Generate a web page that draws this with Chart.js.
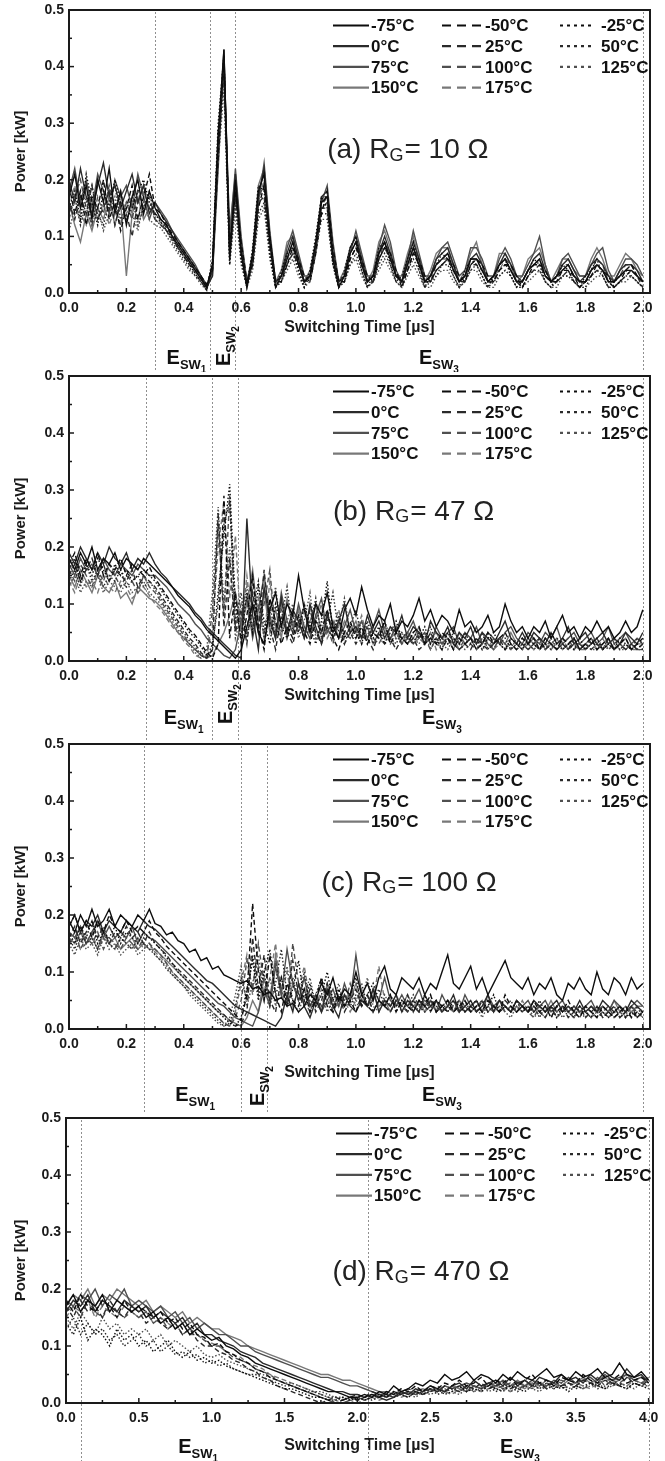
<!DOCTYPE html>
<html>
<head>
<meta charset="utf-8">
<title>Switching power vs time</title>
<script src="https://cdn.jsdelivr.net/npm/chart.js@4.4.1/dist/chart.umd.min.js"></script>
<style>
  html, body { margin: 0; padding: 0; background: #fff; }
  #page { position: relative; width: 665px; height: 1461px; overflow: hidden; }
  canvas { position: absolute; left: 0; }
</style>
</head>
<body>
<div id="page">
  <canvas id="rg10" width="665" height="372" style="top:0px"></canvas>
  <canvas id="rg47" width="665" height="390" style="top:355px"></canvas>
  <canvas id="rg100" width="665" height="390" style="top:725px"></canvas>
  <canvas id="rg470" width="665" height="363" style="top:1098px"></canvas>
</div>
<script>
const temps = ['-75°C', '-50°C', '-25°C', '0°C', '25°C', '50°C', '75°C', '100°C', '125°C', '150°C', '175°C'];

// sample times [µs], panels a-c
const timeUs = [
  0.00, 0.02, 0.04, 0.06, 0.08, 0.10, 0.12, 0.14, 0.16, 0.18,
  0.20, 0.22, 0.24, 0.26, 0.28, 0.30, 0.32, 0.34, 0.36, 0.38,
  0.40, 0.42, 0.44, 0.46, 0.48, 0.50, 0.52, 0.54, 0.56, 0.58,
  0.60, 0.62, 0.64, 0.66, 0.68, 0.70, 0.72, 0.74, 0.76, 0.78,
  0.80, 0.82, 0.84, 0.86, 0.88, 0.90, 0.92, 0.94, 0.96, 0.98,
  1.00, 1.02, 1.04, 1.06, 1.08, 1.10, 1.12, 1.14, 1.16, 1.18,
  1.20, 1.22, 1.24, 1.26, 1.28, 1.30, 1.32, 1.34, 1.36, 1.38,
  1.40, 1.42, 1.44, 1.46, 1.48, 1.50, 1.52, 1.54, 1.56, 1.58,
  1.60, 1.62, 1.64, 1.66, 1.68, 1.70, 1.72, 1.74, 1.76, 1.78,
  1.80, 1.82, 1.84, 1.86, 1.88, 1.90, 1.92, 1.94, 1.96, 1.98, 2.00
];
// sample times [µs], panel d
const timeUsD = [
  0.00, 0.05, 0.10, 0.15, 0.20, 0.25, 0.30, 0.35, 0.40, 0.45,
  0.50, 0.55, 0.60, 0.65, 0.70, 0.75, 0.80, 0.85, 0.90, 0.95,
  1.00, 1.05, 1.10, 1.15, 1.20, 1.25, 1.30, 1.35, 1.40, 1.45,
  1.50, 1.55, 1.60, 1.65, 1.70, 1.75, 1.80, 1.85, 1.90, 1.95,
  2.00, 2.05, 2.10, 2.15, 2.20, 2.25, 2.30, 2.35, 2.40, 2.45,
  2.50, 2.55, 2.60, 2.65, 2.70, 2.75, 2.80, 2.85, 2.90, 2.95,
  3.00, 3.05, 3.10, 3.15, 3.20, 3.25, 3.30, 3.35, 3.40, 3.45,
  3.50, 3.55, 3.60, 3.65, 3.70, 3.75, 3.80, 3.85, 3.90, 3.95, 4.00
];

// (a) RG = 10 ohm, power [kW]
const rg10_m75 = [
  0.17, 0.21, 0.15, 0.19, 0.13, 0.20, 0.16, 0.22, 0.14, 0.18,
  0.12, 0.17, 0.20, 0.14, 0.18, 0.15, 0.13, 0.12, 0.10, 0.085,
  0.07, 0.055, 0.04, 0.025, 0.01, 0.05, 0.28, 0.43, 0.06, 0.20,
  0.07, 0.01, 0.07, 0.18, 0.21, 0.09, 0.01, 0.03, 0.06, 0.09,
  0.05, 0.02, 0.03, 0.09, 0.16, 0.17, 0.06, 0.01, 0.03, 0.07,
  0.09, 0.05, 0.02, 0.03, 0.07, 0.09, 0.06, 0.03, 0.02, 0.05,
  0.08, 0.05, 0.02, 0.03, 0.05, 0.06, 0.07, 0.04, 0.02, 0.03,
  0.06, 0.06, 0.04, 0.02, 0.03, 0.05, 0.06, 0.04, 0.02, 0.02,
  0.04, 0.05, 0.06, 0.03, 0.02, 0.03, 0.04, 0.05, 0.03, 0.02,
  0.02, 0.04, 0.05, 0.04, 0.02, 0.02, 0.03, 0.04, 0.04, 0.03, 0.02
];
const rg10_m50 = [
  0.19, 0.14, 0.18, 0.12, 0.17, 0.15, 0.20, 0.13, 0.16, 0.11,
  0.15, 0.19, 0.13, 0.17, 0.21, 0.15, 0.14, 0.12, 0.105, 0.09,
  0.075, 0.06, 0.045, 0.03, 0.015, 0.04, 0.24, 0.41, 0.08, 0.18,
  0.09, 0.02, 0.05, 0.15, 0.19, 0.10, 0.02, 0.02, 0.05, 0.08,
  0.06, 0.03, 0.02, 0.07, 0.14, 0.18, 0.08, 0.02, 0.02, 0.06,
  0.08, 0.06, 0.03, 0.02, 0.06, 0.08, 0.07, 0.04, 0.01, 0.04,
  0.07, 0.06, 0.03, 0.02, 0.04, 0.05, 0.06, 0.05, 0.03, 0.02,
  0.05, 0.06, 0.05, 0.03, 0.02, 0.04, 0.05, 0.05, 0.03, 0.01,
  0.03, 0.05, 0.05, 0.04, 0.02, 0.02, 0.04, 0.04, 0.03, 0.01,
  0.02, 0.03, 0.05, 0.04, 0.03, 0.01, 0.02, 0.04, 0.05, 0.03, 0.02
];
const rg10_m25 = [
  0.15, 0.18, 0.13, 0.21, 0.16, 0.12, 0.18, 0.15, 0.20, 0.16,
  0.13, 0.15, 0.18, 0.20, 0.16, 0.14, 0.125, 0.11, 0.095, 0.08,
  0.065, 0.05, 0.035, 0.02, 0.005, 0.06, 0.30, 0.42, 0.05, 0.19,
  0.06, 0.01, 0.08, 0.19, 0.18, 0.07, 0.01, 0.04, 0.07, 0.08,
  0.04, 0.01, 0.04, 0.10, 0.17, 0.15, 0.05, 0.01, 0.04, 0.08,
  0.10, 0.04, 0.01, 0.03, 0.08, 0.09, 0.05, 0.02, 0.03, 0.06,
  0.09, 0.04, 0.01, 0.03, 0.05, 0.07, 0.06, 0.03, 0.01, 0.04,
  0.06, 0.05, 0.03, 0.01, 0.03, 0.05, 0.06, 0.03, 0.01, 0.02,
  0.04, 0.06, 0.05, 0.02, 0.01, 0.03, 0.05, 0.04, 0.02, 0.01,
  0.03, 0.04, 0.06, 0.03, 0.01, 0.02, 0.03, 0.04, 0.03, 0.02, 0.01
];
const rg10_0 = [
  0.20, 0.16, 0.22, 0.17, 0.14, 0.19, 0.23, 0.17, 0.19, 0.15,
  0.18, 0.21, 0.16, 0.19, 0.14, 0.16, 0.14, 0.125, 0.11, 0.09,
  0.075, 0.06, 0.045, 0.03, 0.01, 0.03, 0.26, 0.43, 0.07, 0.21,
  0.08, 0.01, 0.06, 0.17, 0.22, 0.10, 0.02, 0.03, 0.07, 0.10,
  0.06, 0.02, 0.03, 0.08, 0.17, 0.18, 0.07, 0.02, 0.03, 0.08,
  0.10, 0.06, 0.02, 0.03, 0.07, 0.10, 0.07, 0.03, 0.02, 0.06,
  0.09, 0.06, 0.02, 0.03, 0.06, 0.07, 0.08, 0.05, 0.02, 0.03,
  0.06, 0.07, 0.05, 0.02, 0.03, 0.05, 0.07, 0.05, 0.03, 0.02,
  0.04, 0.06, 0.07, 0.04, 0.02, 0.03, 0.05, 0.06, 0.04, 0.02,
  0.03, 0.05, 0.06, 0.05, 0.03, 0.02, 0.04, 0.05, 0.05, 0.04, 0.02
];
const rg10_25 = [
  0.16, 0.13, 0.17, 0.14, 0.19, 0.13, 0.15, 0.18, 0.12, 0.16,
  0.14, 0.10, 0.16, 0.19, 0.15, 0.14, 0.13, 0.115, 0.10, 0.08,
  0.065, 0.05, 0.04, 0.025, 0.01, 0.04, 0.27, 0.40, 0.09, 0.17,
  0.07, 0.02, 0.06, 0.16, 0.17, 0.08, 0.02, 0.03, 0.05, 0.07,
  0.05, 0.02, 0.03, 0.08, 0.15, 0.15, 0.06, 0.02, 0.03, 0.06,
  0.08, 0.05, 0.02, 0.02, 0.06, 0.08, 0.06, 0.03, 0.02, 0.04,
  0.07, 0.05, 0.02, 0.02, 0.04, 0.05, 0.06, 0.04, 0.02, 0.02,
  0.05, 0.05, 0.04, 0.02, 0.02, 0.04, 0.05, 0.04, 0.02, 0.01,
  0.03, 0.04, 0.05, 0.03, 0.02, 0.02, 0.03, 0.04, 0.02, 0.01,
  0.02, 0.03, 0.04, 0.04, 0.02, 0.01, 0.02, 0.03, 0.04, 0.03, 0.01
];
const rg10_50 = [
  0.14, 0.17, 0.12, 0.16, 0.19, 0.14, 0.12, 0.16, 0.19, 0.13,
  0.15, 0.17, 0.12, 0.15, 0.18, 0.13, 0.12, 0.11, 0.09, 0.075,
  0.06, 0.045, 0.03, 0.02, 0.005, 0.05, 0.25, 0.39, 0.06, 0.16,
  0.06, 0.01, 0.05, 0.14, 0.16, 0.07, 0.01, 0.02, 0.05, 0.07,
  0.04, 0.01, 0.03, 0.08, 0.14, 0.14, 0.05, 0.01, 0.02, 0.05,
  0.07, 0.04, 0.01, 0.02, 0.05, 0.07, 0.05, 0.02, 0.01, 0.04,
  0.06, 0.04, 0.01, 0.02, 0.03, 0.05, 0.05, 0.03, 0.01, 0.02,
  0.04, 0.05, 0.03, 0.01, 0.02, 0.03, 0.04, 0.03, 0.01, 0.01,
  0.03, 0.04, 0.04, 0.02, 0.01, 0.02, 0.03, 0.03, 0.02, 0.01,
  0.01, 0.03, 0.04, 0.03, 0.01, 0.01, 0.02, 0.03, 0.03, 0.02, 0.01
];
const rg10_75 = [
  0.18, 0.22, 0.16, 0.20, 0.15, 0.21, 0.18, 0.14, 0.20, 0.17,
  0.19, 0.15, 0.21, 0.17, 0.13, 0.16, 0.145, 0.13, 0.11, 0.095,
  0.08, 0.065, 0.05, 0.03, 0.015, 0.03, 0.22, 0.42, 0.10, 0.22,
  0.10, 0.02, 0.05, 0.16, 0.23, 0.11, 0.02, 0.03, 0.08, 0.11,
  0.07, 0.03, 0.03, 0.08, 0.16, 0.19, 0.09, 0.02, 0.03, 0.07,
  0.11, 0.07, 0.03, 0.03, 0.08, 0.12, 0.09, 0.04, 0.02, 0.06,
  0.11, 0.07, 0.03, 0.03, 0.06, 0.08, 0.09, 0.06, 0.03, 0.04,
  0.08, 0.08, 0.06, 0.03, 0.03, 0.06, 0.08, 0.06, 0.03, 0.03,
  0.05, 0.07, 0.10, 0.05, 0.02, 0.03, 0.06, 0.07, 0.05, 0.03,
  0.03, 0.05, 0.07, 0.08, 0.04, 0.02, 0.04, 0.06, 0.06, 0.05, 0.03
];
const rg10_100 = [
  0.13, 0.17, 0.20, 0.15, 0.12, 0.17, 0.14, 0.19, 0.15, 0.12,
  0.16, 0.13, 0.18, 0.15, 0.17, 0.13, 0.12, 0.11, 0.095, 0.08,
  0.065, 0.05, 0.035, 0.02, 0.01, 0.05, 0.29, 0.38, 0.08, 0.18,
  0.08, 0.02, 0.06, 0.17, 0.19, 0.09, 0.02, 0.02, 0.06, 0.09,
  0.05, 0.02, 0.02, 0.07, 0.15, 0.16, 0.07, 0.02, 0.02, 0.07,
  0.09, 0.06, 0.02, 0.02, 0.06, 0.09, 0.07, 0.03, 0.02, 0.05,
  0.08, 0.06, 0.02, 0.02, 0.05, 0.06, 0.07, 0.05, 0.02, 0.03,
  0.06, 0.06, 0.05, 0.02, 0.02, 0.05, 0.06, 0.05, 0.02, 0.02,
  0.04, 0.05, 0.06, 0.04, 0.02, 0.02, 0.05, 0.05, 0.03, 0.02,
  0.02, 0.04, 0.06, 0.05, 0.02, 0.02, 0.03, 0.05, 0.05, 0.03, 0.02
];
const rg10_125 = [
  0.11, 0.15, 0.13, 0.17, 0.12, 0.15, 0.11, 0.14, 0.17, 0.12,
  0.16, 0.14, 0.11, 0.16, 0.13, 0.12, 0.115, 0.10, 0.085, 0.07,
  0.055, 0.04, 0.03, 0.015, 0.005, 0.04, 0.23, 0.36, 0.05, 0.15,
  0.05, 0.01, 0.04, 0.13, 0.15, 0.06, 0.01, 0.02, 0.04, 0.06,
  0.03, 0.01, 0.02, 0.07, 0.13, 0.13, 0.05, 0.01, 0.02, 0.05,
  0.06, 0.03, 0.01, 0.02, 0.04, 0.06, 0.04, 0.02, 0.01, 0.03,
  0.05, 0.03, 0.01, 0.01, 0.03, 0.04, 0.04, 0.02, 0.01, 0.02,
  0.04, 0.04, 0.02, 0.01, 0.01, 0.03, 0.04, 0.03, 0.01, 0.01,
  0.02, 0.03, 0.04, 0.02, 0.01, 0.01, 0.03, 0.03, 0.02, 0.01,
  0.01, 0.02, 0.03, 0.03, 0.01, 0.01, 0.02, 0.02, 0.03, 0.02, 0.01
];
const rg10_150 = [
  0.16, 0.12, 0.09, 0.14, 0.11, 0.15, 0.13, 0.17, 0.12, 0.16,
  0.03, 0.14, 0.17, 0.13, 0.15, 0.14, 0.13, 0.12, 0.10, 0.09,
  0.075, 0.06, 0.045, 0.03, 0.01, 0.04, 0.25, 0.41, 0.11, 0.21,
  0.09, 0.02, 0.07, 0.19, 0.22, 0.10, 0.02, 0.04, 0.09, 0.10,
  0.06, 0.02, 0.04, 0.09, 0.17, 0.17, 0.08, 0.02, 0.04, 0.08,
  0.10, 0.06, 0.02, 0.04, 0.09, 0.11, 0.08, 0.03, 0.03, 0.07,
  0.10, 0.06, 0.02, 0.04, 0.07, 0.08, 0.08, 0.05, 0.02, 0.04,
  0.07, 0.09, 0.05, 0.02, 0.03, 0.07, 0.07, 0.05, 0.02, 0.03,
  0.06, 0.07, 0.08, 0.05, 0.02, 0.04, 0.06, 0.06, 0.04, 0.03,
  0.03, 0.06, 0.08, 0.06, 0.03, 0.03, 0.05, 0.07, 0.06, 0.04, 0.03
];
const rg10_175 = [
  0.15, 0.19, 0.14, 0.12, 0.17, 0.13, 0.16, 0.12, 0.15, 0.18,
  0.14, 0.16, 0.13, 0.18, 0.15, 0.13, 0.125, 0.11, 0.10, 0.08,
  0.07, 0.055, 0.04, 0.025, 0.01, 0.05, 0.27, 0.40, 0.07, 0.19,
  0.07, 0.02, 0.06, 0.16, 0.20, 0.09, 0.02, 0.03, 0.06, 0.08,
  0.05, 0.02, 0.03, 0.09, 0.15, 0.16, 0.06, 0.02, 0.03, 0.07,
  0.09, 0.05, 0.02, 0.03, 0.07, 0.09, 0.06, 0.03, 0.02, 0.05,
  0.08, 0.05, 0.02, 0.03, 0.05, 0.06, 0.06, 0.04, 0.02, 0.03,
  0.05, 0.06, 0.04, 0.02, 0.03, 0.04, 0.06, 0.04, 0.02, 0.02,
  0.04, 0.05, 0.06, 0.03, 0.02, 0.03, 0.04, 0.05, 0.03, 0.02,
  0.02, 0.04, 0.05, 0.04, 0.02, 0.02, 0.03, 0.04, 0.04, 0.03, 0.02
];

// (b) RG = 47 ohm
const rg47_m75 = [
  0.18, 0.16, 0.19, 0.17, 0.20, 0.16, 0.18, 0.17, 0.19, 0.16,
  0.18, 0.17, 0.16, 0.18, 0.17, 0.16, 0.15, 0.14, 0.13, 0.115,
  0.105, 0.095, 0.08, 0.07, 0.055, 0.045, 0.035, 0.025, 0.015, 0.005,
  0.02, 0.06, 0.10, 0.05, 0.03, 0.09, 0.12, 0.06, 0.10, 0.08,
  0.15, 0.09, 0.05, 0.10, 0.08, 0.12, 0.06, 0.04, 0.09, 0.11,
  0.08, 0.13, 0.09, 0.06, 0.08, 0.07, 0.10, 0.05, 0.07, 0.06,
  0.08, 0.11, 0.07, 0.09, 0.06, 0.08, 0.07, 0.05, 0.09, 0.06,
  0.07, 0.05, 0.06, 0.08, 0.05, 0.06, 0.10, 0.07, 0.05, 0.06,
  0.04, 0.06, 0.05, 0.07, 0.04, 0.06, 0.08, 0.05, 0.06, 0.04,
  0.06, 0.05, 0.07, 0.05, 0.06, 0.04, 0.05, 0.07, 0.05, 0.06, 0.09
];
const rg47_m50 = [
  0.17, 0.19, 0.15, 0.18, 0.16, 0.19, 0.15, 0.17, 0.16, 0.18,
  0.15, 0.17, 0.16, 0.15, 0.165, 0.145, 0.13, 0.115, 0.10, 0.085,
  0.07, 0.055, 0.045, 0.03, 0.015, 0.005, 0.03, 0.29, 0.04, 0.12,
  0.03, 0.08, 0.15, 0.06, 0.02, 0.11, 0.07, 0.03, 0.06, 0.04,
  0.08, 0.05, 0.03, 0.07, 0.05, 0.09, 0.04, 0.02, 0.05, 0.07,
  0.04, 0.06, 0.03, 0.05, 0.04, 0.07, 0.03, 0.05, 0.04, 0.03,
  0.05, 0.06, 0.03, 0.04, 0.03, 0.05, 0.04, 0.02, 0.04, 0.03,
  0.04, 0.02, 0.03, 0.05, 0.03, 0.04, 0.05, 0.03, 0.02, 0.04,
  0.03, 0.04, 0.02, 0.04, 0.03, 0.02, 0.04, 0.03, 0.04, 0.02,
  0.03, 0.04, 0.02, 0.03, 0.04, 0.02, 0.03, 0.04, 0.02, 0.03, 0.04
];
const rg47_m25 = [
  0.16, 0.18, 0.14, 0.17, 0.15, 0.18, 0.16, 0.14, 0.17, 0.15,
  0.16, 0.14, 0.15, 0.16, 0.15, 0.14, 0.125, 0.11, 0.095, 0.08,
  0.065, 0.05, 0.04, 0.025, 0.01, 0.02, 0.12, 0.22, 0.31, 0.10,
  0.04, 0.12, 0.05, 0.13, 0.07, 0.03, 0.10, 0.06, 0.04, 0.08,
  0.05, 0.10, 0.06, 0.03, 0.07, 0.14, 0.05, 0.08, 0.04, 0.06,
  0.05, 0.03, 0.07, 0.04, 0.06, 0.03, 0.05, 0.07, 0.04, 0.03,
  0.05, 0.04, 0.06, 0.03, 0.04, 0.02, 0.05, 0.04, 0.03, 0.05,
  0.03, 0.04, 0.02, 0.04, 0.05, 0.03, 0.02, 0.04, 0.03, 0.02,
  0.04, 0.03, 0.02, 0.03, 0.05, 0.03, 0.02, 0.03, 0.02, 0.04,
  0.02, 0.03, 0.04, 0.02, 0.03, 0.02, 0.04, 0.03, 0.02, 0.03, 0.02
];
const rg47_0 = [
  0.19, 0.17, 0.20, 0.18, 0.16, 0.19, 0.17, 0.20, 0.18, 0.17,
  0.19, 0.16, 0.18, 0.17, 0.19, 0.17, 0.155, 0.145, 0.13, 0.12,
  0.11, 0.10, 0.085, 0.075, 0.06, 0.05, 0.04, 0.03, 0.02, 0.01,
  0.005, 0.25, 0.08, 0.02, 0.13, 0.07, 0.04, 0.11, 0.05, 0.09,
  0.07, 0.04, 0.10, 0.06, 0.03, 0.08, 0.05, 0.07, 0.10, 0.05,
  0.06, 0.04, 0.08, 0.05, 0.07, 0.04, 0.06, 0.05, 0.08, 0.04,
  0.06, 0.05, 0.03, 0.07, 0.05, 0.04, 0.06, 0.03, 0.05, 0.04,
  0.06, 0.03, 0.05, 0.04, 0.03, 0.05, 0.07, 0.04, 0.03, 0.05,
  0.03, 0.05, 0.04, 0.03, 0.05, 0.03, 0.04, 0.06, 0.03, 0.04,
  0.05, 0.03, 0.04, 0.05, 0.03, 0.04, 0.03, 0.05, 0.04, 0.03, 0.05
];
const rg47_25 = [
  0.15, 0.17, 0.14, 0.16, 0.18, 0.15, 0.17, 0.14, 0.16, 0.15,
  0.14, 0.16, 0.13, 0.15, 0.14, 0.13, 0.115, 0.10, 0.085, 0.07,
  0.055, 0.04, 0.03, 0.015, 0.005, 0.02, 0.26, 0.06, 0.18, 0.05,
  0.09, 0.03, 0.12, 0.05, 0.16, 0.06, 0.02, 0.08, 0.05, 0.03,
  0.07, 0.04, 0.09, 0.05, 0.03, 0.06, 0.04, 0.07, 0.03, 0.05,
  0.03, 0.05, 0.04, 0.02, 0.05, 0.03, 0.04, 0.02, 0.04, 0.03,
  0.04, 0.02, 0.03, 0.05, 0.03, 0.02, 0.04, 0.03, 0.02, 0.03,
  0.02, 0.04, 0.03, 0.02, 0.03, 0.04, 0.02, 0.03, 0.02, 0.03,
  0.02, 0.03, 0.04, 0.02, 0.03, 0.02, 0.03, 0.02, 0.04, 0.02,
  0.03, 0.02, 0.03, 0.02, 0.04, 0.02, 0.03, 0.02, 0.03, 0.02, 0.03
];
const rg47_50 = [
  0.14, 0.16, 0.13, 0.17, 0.14, 0.16, 0.13, 0.15, 0.14, 0.16,
  0.13, 0.14, 0.15, 0.13, 0.14, 0.125, 0.11, 0.095, 0.08, 0.065,
  0.05, 0.035, 0.025, 0.01, 0.005, 0.03, 0.10, 0.24, 0.28, 0.07,
  0.12, 0.04, 0.09, 0.14, 0.05, 0.10, 0.04, 0.07, 0.13, 0.05,
  0.08, 0.04, 0.06, 0.11, 0.04, 0.07, 0.12, 0.05, 0.03, 0.06,
  0.09, 0.04, 0.06, 0.03, 0.05, 0.07, 0.04, 0.03, 0.05, 0.04,
  0.03, 0.05, 0.04, 0.06, 0.03, 0.04, 0.03, 0.05, 0.04, 0.03,
  0.04, 0.03, 0.05, 0.02, 0.04, 0.03, 0.04, 0.02, 0.03, 0.04,
  0.03, 0.02, 0.04, 0.03, 0.02, 0.04, 0.03, 0.02, 0.03, 0.03,
  0.02, 0.04, 0.03, 0.02, 0.03, 0.04, 0.02, 0.03, 0.02, 0.04, 0.03
];
const rg47_75 = [
  0.17, 0.15, 0.18, 0.16, 0.17, 0.15, 0.18, 0.16, 0.15, 0.17,
  0.16, 0.15, 0.17, 0.16, 0.15, 0.15, 0.14, 0.13, 0.115, 0.10,
  0.09, 0.08, 0.065, 0.055, 0.04, 0.03, 0.02, 0.01, 0.005, 0.02,
  0.07, 0.11, 0.04, 0.09, 0.15, 0.08, 0.04, 0.12, 0.07, 0.05,
  0.10, 0.06, 0.04, 0.08, 0.11, 0.05, 0.07, 0.04, 0.06, 0.09,
  0.05, 0.07, 0.04, 0.06, 0.09, 0.05, 0.04, 0.06, 0.04, 0.05,
  0.07, 0.04, 0.05, 0.03, 0.06, 0.04, 0.05, 0.06, 0.03, 0.05,
  0.04, 0.06, 0.03, 0.05, 0.04, 0.03, 0.05, 0.06, 0.04, 0.03,
  0.05, 0.04, 0.03, 0.05, 0.04, 0.06, 0.03, 0.04, 0.05, 0.03,
  0.04, 0.05, 0.03, 0.04, 0.06, 0.03, 0.04, 0.05, 0.03, 0.04, 0.03
];
const rg47_100 = [
  0.16, 0.14, 0.17, 0.15, 0.13, 0.16, 0.14, 0.17, 0.15, 0.13,
  0.15, 0.14, 0.12, 0.15, 0.13, 0.12, 0.105, 0.09, 0.075, 0.06,
  0.045, 0.03, 0.02, 0.01, 0.005, 0.09, 0.24, 0.08, 0.29, 0.06,
  0.10, 0.05, 0.14, 0.06, 0.10, 0.16, 0.05, 0.09, 0.04, 0.07,
  0.06, 0.10, 0.05, 0.08, 0.04, 0.06, 0.03, 0.07, 0.05, 0.04,
  0.06, 0.03, 0.05, 0.04, 0.03, 0.05, 0.04, 0.06, 0.03, 0.04,
  0.03, 0.05, 0.04, 0.02, 0.04, 0.03, 0.05, 0.03, 0.02, 0.04,
  0.03, 0.02, 0.04, 0.03, 0.02, 0.04, 0.03, 0.02, 0.04, 0.03,
  0.02, 0.03, 0.02, 0.04, 0.03, 0.02, 0.03, 0.04, 0.02, 0.03,
  0.02, 0.03, 0.04, 0.02, 0.03, 0.02, 0.03, 0.02, 0.03, 0.02, 0.02
];
const rg47_125 = [
  0.13, 0.15, 0.12, 0.14, 0.13, 0.15, 0.12, 0.14, 0.13, 0.12,
  0.14, 0.12, 0.13, 0.14, 0.12, 0.11, 0.10, 0.085, 0.07, 0.055,
  0.04, 0.03, 0.015, 0.005, 0.02, 0.12, 0.27, 0.10, 0.20, 0.04,
  0.08, 0.13, 0.05, 0.10, 0.04, 0.08, 0.13, 0.05, 0.07, 0.10,
  0.04, 0.07, 0.12, 0.04, 0.06, 0.09, 0.04, 0.06, 0.11, 0.05,
  0.04, 0.07, 0.03, 0.05, 0.04, 0.06, 0.03, 0.04, 0.05, 0.03,
  0.04, 0.03, 0.05, 0.02, 0.04, 0.03, 0.02, 0.04, 0.03, 0.02,
  0.03, 0.04, 0.02, 0.03, 0.02, 0.04, 0.03, 0.02, 0.03, 0.02,
  0.03, 0.02, 0.03, 0.02, 0.04, 0.02, 0.03, 0.02, 0.03, 0.02,
  0.03, 0.02, 0.02, 0.03, 0.02, 0.03, 0.02, 0.02, 0.03, 0.02, 0.02
];
const rg47_150 = [
  0.15, 0.13, 0.16, 0.14, 0.12, 0.15, 0.13, 0.12, 0.14, 0.11,
  0.12, 0.10, 0.13, 0.12, 0.11, 0.105, 0.095, 0.08, 0.065, 0.05,
  0.04, 0.03, 0.02, 0.01, 0.005, 0.01, 0.03, 0.05, 0.08, 0.12,
  0.06, 0.10, 0.16, 0.07, 0.12, 0.05, 0.09, 0.04, 0.11, 0.06,
  0.09, 0.05, 0.07, 0.10, 0.05, 0.08, 0.06, 0.04, 0.07, 0.05,
  0.07, 0.04, 0.06, 0.03, 0.05, 0.06, 0.04, 0.05, 0.03, 0.05,
  0.04, 0.06, 0.03, 0.04, 0.05, 0.03, 0.04, 0.02, 0.05, 0.03,
  0.04, 0.03, 0.05, 0.03, 0.02, 0.04, 0.03, 0.05, 0.03, 0.02,
  0.04, 0.03, 0.04, 0.02, 0.03, 0.04, 0.02, 0.03, 0.04, 0.02,
  0.03, 0.04, 0.02, 0.03, 0.04, 0.02, 0.03, 0.04, 0.02, 0.03, 0.03
];
const rg47_175 = [
  0.14, 0.12, 0.15, 0.13, 0.14, 0.12, 0.15, 0.13, 0.12, 0.14,
  0.13, 0.11, 0.12, 0.13, 0.115, 0.10, 0.09, 0.075, 0.06, 0.05,
  0.035, 0.025, 0.01, 0.005, 0.01, 0.06, 0.20, 0.28, 0.11, 0.22,
  0.05, 0.15, 0.06, 0.11, 0.04, 0.14, 0.06, 0.10, 0.04, 0.08,
  0.05, 0.09, 0.04, 0.07, 0.10, 0.04, 0.06, 0.09, 0.04, 0.06,
  0.05, 0.08, 0.04, 0.06, 0.04, 0.03, 0.06, 0.04, 0.03, 0.05,
  0.03, 0.04, 0.03, 0.05, 0.02, 0.04, 0.03, 0.04, 0.02, 0.03,
  0.04, 0.02, 0.03, 0.04, 0.02, 0.03, 0.02, 0.04, 0.03, 0.02,
  0.03, 0.04, 0.02, 0.03, 0.02, 0.03, 0.04, 0.02, 0.03, 0.02,
  0.02, 0.03, 0.02, 0.04, 0.02, 0.03, 0.02, 0.03, 0.02, 0.02, 0.03
];

// (c) RG = 100 ohm
const rg100_m75 = [
  0.19, 0.17, 0.20, 0.18, 0.21, 0.18, 0.19, 0.21, 0.18, 0.20,
  0.19, 0.18, 0.20, 0.19, 0.21, 0.185, 0.18, 0.165, 0.17, 0.155,
  0.15, 0.135, 0.14, 0.12, 0.125, 0.105, 0.11, 0.095, 0.09, 0.085,
  0.08, 0.085, 0.07, 0.075, 0.06, 0.065, 0.05, 0.055, 0.04, 0.045,
  0.03, 0.04, 0.06, 0.05, 0.08, 0.06, 0.09, 0.05, 0.07, 0.06,
  0.10, 0.06, 0.08, 0.05, 0.09, 0.11, 0.07, 0.06, 0.09, 0.08,
  0.07, 0.09, 0.06, 0.08, 0.07, 0.10, 0.13, 0.08, 0.07, 0.09,
  0.11, 0.07, 0.09, 0.06, 0.08, 0.10, 0.12, 0.09, 0.08, 0.07,
  0.09, 0.06, 0.08, 0.07, 0.09, 0.06, 0.05, 0.08, 0.07, 0.09,
  0.07, 0.06, 0.10, 0.07, 0.06, 0.09, 0.08, 0.06, 0.09, 0.07, 0.08
];
const rg100_m50 = [
  0.18, 0.20, 0.17, 0.19, 0.16, 0.19, 0.17, 0.20, 0.18, 0.17,
  0.19, 0.17, 0.18, 0.17, 0.19, 0.17, 0.16, 0.145, 0.135, 0.125,
  0.115, 0.105, 0.095, 0.085, 0.075, 0.065, 0.055, 0.045, 0.035, 0.025,
  0.015, 0.06, 0.22, 0.10, 0.05, 0.13, 0.06, 0.03, 0.08, 0.05,
  0.04, 0.07, 0.03, 0.05, 0.09, 0.04, 0.03, 0.06, 0.04, 0.05,
  0.03, 0.06, 0.04, 0.03, 0.05, 0.04, 0.06, 0.03, 0.05, 0.04,
  0.03, 0.05, 0.04, 0.06, 0.03, 0.04, 0.05, 0.03, 0.04, 0.05,
  0.03, 0.04, 0.03, 0.05, 0.04, 0.03, 0.06, 0.04, 0.03, 0.04,
  0.03, 0.05, 0.03, 0.04, 0.02, 0.04, 0.03, 0.05, 0.03, 0.02,
  0.04, 0.03, 0.02, 0.04, 0.03, 0.02, 0.03, 0.04, 0.02, 0.03, 0.03
];
const rg100_m25 = [
  0.17, 0.15, 0.18, 0.16, 0.19, 0.15, 0.17, 0.16, 0.18, 0.15,
  0.17, 0.16, 0.15, 0.17, 0.16, 0.15, 0.14, 0.125, 0.115, 0.10,
  0.09, 0.08, 0.07, 0.06, 0.05, 0.04, 0.03, 0.02, 0.01, 0.005,
  0.02, 0.07, 0.12, 0.05, 0.10, 0.14, 0.06, 0.09, 0.04, 0.07,
  0.12, 0.05, 0.08, 0.04, 0.06, 0.10, 0.05, 0.07, 0.04, 0.06,
  0.09, 0.04, 0.06, 0.08, 0.05, 0.04, 0.06, 0.04, 0.05, 0.03,
  0.05, 0.04, 0.06, 0.03, 0.05, 0.04, 0.03, 0.05, 0.04, 0.03,
  0.04, 0.05, 0.03, 0.04, 0.06, 0.03, 0.04, 0.03, 0.05, 0.03,
  0.04, 0.03, 0.05, 0.03, 0.04, 0.02, 0.04, 0.03, 0.02, 0.04,
  0.03, 0.02, 0.04, 0.03, 0.02, 0.03, 0.04, 0.02, 0.03, 0.02, 0.03
];
const rg100_0 = [
  0.18, 0.20, 0.17, 0.19, 0.18, 0.20, 0.17, 0.19, 0.18, 0.17,
  0.19, 0.18, 0.17, 0.19, 0.18, 0.175, 0.165, 0.155, 0.145, 0.135,
  0.125, 0.115, 0.105, 0.095, 0.085, 0.08, 0.07, 0.06, 0.05, 0.04,
  0.035, 0.03, 0.025, 0.02, 0.015, 0.01, 0.005, 0.02, 0.06, 0.03,
  0.08, 0.04, 0.02, 0.05, 0.03, 0.07, 0.04, 0.02, 0.06, 0.04,
  0.03, 0.05, 0.04, 0.07, 0.03, 0.05, 0.04, 0.06, 0.03, 0.05,
  0.04, 0.03, 0.06, 0.04, 0.05, 0.03, 0.04, 0.06, 0.03, 0.04,
  0.05, 0.03, 0.04, 0.06, 0.03, 0.05, 0.04, 0.03, 0.05, 0.04,
  0.03, 0.05, 0.04, 0.03, 0.04, 0.05, 0.03, 0.04, 0.03, 0.05,
  0.03, 0.04, 0.03, 0.05, 0.04, 0.03, 0.04, 0.03, 0.05, 0.04, 0.03
];
const rg100_25 = [
  0.16, 0.18, 0.15, 0.17, 0.19, 0.16, 0.18, 0.15, 0.17, 0.16,
  0.18, 0.16, 0.17, 0.15, 0.17, 0.15, 0.14, 0.13, 0.115, 0.105,
  0.095, 0.085, 0.075, 0.065, 0.055, 0.045, 0.035, 0.025, 0.015, 0.005,
  0.01, 0.03, 0.16, 0.07, 0.13, 0.05, 0.03, 0.09, 0.05, 0.12,
  0.06, 0.04, 0.07, 0.03, 0.05, 0.08, 0.04, 0.06, 0.03, 0.05,
  0.07, 0.04, 0.06, 0.03, 0.05, 0.04, 0.03, 0.05, 0.04, 0.06,
  0.03, 0.05, 0.04, 0.03, 0.05, 0.04, 0.03, 0.04, 0.05, 0.03,
  0.04, 0.03, 0.05, 0.03, 0.04, 0.03, 0.05, 0.04, 0.03, 0.04,
  0.03, 0.04, 0.03, 0.02, 0.04, 0.03, 0.04, 0.02, 0.03, 0.04,
  0.02, 0.03, 0.04, 0.02, 0.03, 0.04, 0.02, 0.03, 0.04, 0.02, 0.03
];
const rg100_50 = [
  0.16, 0.14, 0.17, 0.15, 0.16, 0.14, 0.17, 0.15, 0.14, 0.16,
  0.15, 0.14, 0.16, 0.15, 0.14, 0.13, 0.12, 0.105, 0.095, 0.085,
  0.075, 0.065, 0.055, 0.045, 0.035, 0.025, 0.015, 0.005, 0.01, 0.04,
  0.09, 0.05, 0.13, 0.06, 0.10, 0.04, 0.08, 0.14, 0.06, 0.09,
  0.05, 0.10, 0.04, 0.06, 0.09, 0.05, 0.03, 0.07, 0.05, 0.04,
  0.06, 0.08, 0.04, 0.05, 0.07, 0.04, 0.06, 0.03, 0.05, 0.04,
  0.06, 0.04, 0.03, 0.05, 0.04, 0.03, 0.05, 0.04, 0.03, 0.05,
  0.03, 0.04, 0.05, 0.03, 0.04, 0.03, 0.04, 0.05, 0.03, 0.04,
  0.03, 0.04, 0.02, 0.04, 0.03, 0.04, 0.02, 0.03, 0.04, 0.03,
  0.02, 0.04, 0.03, 0.02, 0.03, 0.04, 0.02, 0.03, 0.02, 0.04, 0.02
];
const rg100_75 = [
  0.17, 0.16, 0.18, 0.15, 0.17, 0.19, 0.16, 0.18, 0.16, 0.17,
  0.16, 0.18, 0.15, 0.17, 0.16, 0.155, 0.145, 0.135, 0.125, 0.115,
  0.105, 0.095, 0.085, 0.075, 0.065, 0.055, 0.045, 0.04, 0.03, 0.02,
  0.015, 0.01, 0.005, 0.03, 0.07, 0.04, 0.11, 0.06, 0.14, 0.08,
  0.05, 0.09, 0.04, 0.06, 0.03, 0.05, 0.07, 0.04, 0.08, 0.05,
  0.13, 0.06, 0.04, 0.07, 0.05, 0.09, 0.05, 0.04, 0.06, 0.04,
  0.05, 0.07, 0.04, 0.05, 0.03, 0.06, 0.04, 0.05, 0.03, 0.06,
  0.04, 0.05, 0.03, 0.06, 0.04, 0.05, 0.04, 0.03, 0.05, 0.04,
  0.05, 0.03, 0.04, 0.05, 0.03, 0.04, 0.05, 0.03, 0.04, 0.03,
  0.04, 0.05, 0.03, 0.04, 0.03, 0.05, 0.04, 0.03, 0.04, 0.05, 0.04
];
const rg100_100 = [
  0.15, 0.17, 0.14, 0.16, 0.15, 0.17, 0.14, 0.16, 0.15, 0.14,
  0.16, 0.15, 0.14, 0.16, 0.15, 0.14, 0.13, 0.115, 0.10, 0.09,
  0.08, 0.07, 0.06, 0.05, 0.04, 0.03, 0.02, 0.01, 0.005, 0.02,
  0.05, 0.12, 0.07, 0.15, 0.08, 0.05, 0.12, 0.07, 0.04, 0.15,
  0.08, 0.05, 0.03, 0.06, 0.04, 0.07, 0.03, 0.05, 0.04, 0.08,
  0.05, 0.04, 0.06, 0.03, 0.05, 0.04, 0.03, 0.05, 0.04, 0.03,
  0.04, 0.03, 0.05, 0.04, 0.03, 0.04, 0.05, 0.03, 0.04, 0.03,
  0.04, 0.05, 0.03, 0.04, 0.03, 0.05, 0.03, 0.04, 0.03, 0.04,
  0.03, 0.02, 0.04, 0.03, 0.04, 0.02, 0.03, 0.04, 0.03, 0.02,
  0.04, 0.03, 0.02, 0.03, 0.04, 0.02, 0.03, 0.02, 0.04, 0.03, 0.02
];
const rg100_125 = [
  0.15, 0.13, 0.16, 0.14, 0.15, 0.13, 0.16, 0.14, 0.15, 0.13,
  0.14, 0.15, 0.13, 0.14, 0.15, 0.13, 0.12, 0.11, 0.095, 0.085,
  0.075, 0.06, 0.05, 0.04, 0.03, 0.02, 0.01, 0.005, 0.02, 0.06,
  0.11, 0.04, 0.08, 0.13, 0.05, 0.09, 0.04, 0.07, 0.11, 0.05,
  0.03, 0.06, 0.09, 0.04, 0.06, 0.03, 0.05, 0.08, 0.04, 0.06,
  0.04, 0.05, 0.09, 0.04, 0.03, 0.06, 0.04, 0.05, 0.03, 0.04,
  0.05, 0.03, 0.04, 0.06, 0.03, 0.04, 0.03, 0.05, 0.03, 0.04,
  0.03, 0.04, 0.02, 0.04, 0.03, 0.04, 0.03, 0.02, 0.04, 0.03,
  0.04, 0.02, 0.03, 0.04, 0.02, 0.03, 0.04, 0.03, 0.02, 0.03,
  0.03, 0.02, 0.03, 0.04, 0.02, 0.03, 0.02, 0.03, 0.04, 0.02, 0.03
];
const rg100_150 = [
  0.16, 0.15, 0.17, 0.15, 0.16, 0.14, 0.17, 0.15, 0.16, 0.14,
  0.15, 0.16, 0.14, 0.15, 0.14, 0.14, 0.13, 0.12, 0.11, 0.10,
  0.09, 0.08, 0.07, 0.06, 0.05, 0.04, 0.03, 0.025, 0.015, 0.01,
  0.005, 0.02, 0.05, 0.03, 0.09, 0.05, 0.13, 0.06, 0.04, 0.08,
  0.05, 0.07, 0.04, 0.06, 0.03, 0.08, 0.05, 0.04, 0.06, 0.05,
  0.08, 0.05, 0.04, 0.06, 0.04, 0.05, 0.03, 0.05, 0.04, 0.06,
  0.04, 0.05, 0.03, 0.04, 0.05, 0.03, 0.04, 0.03, 0.05, 0.04,
  0.03, 0.04, 0.05, 0.03, 0.04, 0.03, 0.04, 0.03, 0.04, 0.03,
  0.04, 0.03, 0.04, 0.03, 0.05, 0.03, 0.04, 0.03, 0.04, 0.03,
  0.03, 0.04, 0.03, 0.04, 0.03, 0.05, 0.03, 0.04, 0.03, 0.04, 0.04
];
const rg100_175 = [
  0.15, 0.16, 0.14, 0.15, 0.17, 0.14, 0.16, 0.15, 0.14, 0.16,
  0.15, 0.14, 0.16, 0.14, 0.15, 0.135, 0.125, 0.115, 0.10, 0.09,
  0.08, 0.07, 0.06, 0.05, 0.04, 0.03, 0.02, 0.01, 0.005, 0.03,
  0.08, 0.13, 0.06, 0.11, 0.05, 0.09, 0.15, 0.06, 0.10, 0.04,
  0.07, 0.11, 0.05, 0.04, 0.07, 0.05, 0.04, 0.06, 0.05, 0.03,
  0.05, 0.07, 0.04, 0.05, 0.11, 0.05, 0.04, 0.06, 0.04, 0.03,
  0.05, 0.04, 0.03, 0.05, 0.04, 0.03, 0.04, 0.03, 0.05, 0.03,
  0.04, 0.03, 0.04, 0.05, 0.03, 0.04, 0.03, 0.04, 0.03, 0.05,
  0.03, 0.04, 0.03, 0.02, 0.04, 0.03, 0.04, 0.03, 0.02, 0.04,
  0.03, 0.02, 0.04, 0.03, 0.02, 0.03, 0.04, 0.02, 0.03, 0.04, 0.03
];

// (d) RG = 470 ohm
const rg470_m75 = [
  0.17, 0.19, 0.16, 0.18, 0.17, 0.19, 0.16, 0.18, 0.17, 0.16,
  0.17, 0.15, 0.16, 0.14, 0.15, 0.13, 0.14, 0.12, 0.13, 0.12,
  0.11, 0.115, 0.10, 0.095, 0.085, 0.08, 0.07, 0.065, 0.06, 0.055,
  0.05, 0.045, 0.04, 0.035, 0.03, 0.025, 0.02, 0.02, 0.015, 0.01,
  0.01, 0.015, 0.01, 0.02, 0.015, 0.03, 0.02, 0.025, 0.035, 0.03,
  0.04, 0.035, 0.05, 0.04, 0.045, 0.055, 0.04, 0.05, 0.045, 0.035,
  0.05, 0.04, 0.055, 0.045, 0.04, 0.05, 0.06, 0.045, 0.05, 0.04,
  0.055, 0.045, 0.05, 0.06, 0.045, 0.05, 0.07, 0.05, 0.045, 0.055, 0.04
];
const rg470_m50 = [
  0.18, 0.16, 0.19, 0.17, 0.16, 0.18, 0.17, 0.15, 0.18, 0.16,
  0.17, 0.16, 0.15, 0.16, 0.14, 0.15, 0.13, 0.14, 0.12, 0.115,
  0.10, 0.105, 0.09, 0.085, 0.075, 0.07, 0.06, 0.055, 0.045, 0.04,
  0.035, 0.03, 0.025, 0.02, 0.015, 0.01, 0.005, 0.0, 0.005, 0.01,
  0.005, 0.01, 0.015, 0.01, 0.02, 0.015, 0.025, 0.02, 0.03, 0.02,
  0.03, 0.025, 0.035, 0.03, 0.04, 0.03, 0.035, 0.045, 0.03, 0.04,
  0.035, 0.045, 0.03, 0.04, 0.05, 0.035, 0.04, 0.03, 0.045, 0.04,
  0.035, 0.05, 0.04, 0.035, 0.045, 0.04, 0.05, 0.035, 0.04, 0.045, 0.035
];
const rg470_m25 = [
  0.14, 0.12, 0.15, 0.11, 0.13, 0.12, 0.10, 0.13, 0.11, 0.12,
  0.10, 0.11, 0.09, 0.10, 0.11, 0.09, 0.08, 0.09, 0.075, 0.08,
  0.07, 0.075, 0.065, 0.06, 0.055, 0.05, 0.045, 0.04, 0.035, 0.03,
  0.025, 0.025, 0.02, 0.015, 0.01, 0.01, 0.005, 0.005, 0.01, 0.005,
  0.01, 0.005, 0.01, 0.015, 0.01, 0.02, 0.015, 0.01, 0.02, 0.015,
  0.02, 0.025, 0.015, 0.02, 0.03, 0.02, 0.025, 0.02, 0.03, 0.025,
  0.02, 0.03, 0.025, 0.02, 0.03, 0.025, 0.035, 0.025, 0.03, 0.02,
  0.03, 0.025, 0.035, 0.03, 0.025, 0.035, 0.03, 0.025, 0.035, 0.03, 0.025
];
const rg470_0 = [
  0.16, 0.18, 0.17, 0.19, 0.16, 0.18, 0.17, 0.16, 0.18, 0.17,
  0.16, 0.17, 0.15, 0.16, 0.15, 0.14, 0.15, 0.13, 0.14, 0.12,
  0.12, 0.11, 0.105, 0.10, 0.09, 0.085, 0.08, 0.07, 0.065, 0.06,
  0.055, 0.05, 0.045, 0.04, 0.035, 0.03, 0.025, 0.02, 0.02, 0.015,
  0.015, 0.01, 0.015, 0.01, 0.005, 0.01, 0.02, 0.015, 0.025, 0.02,
  0.03, 0.025, 0.02, 0.03, 0.035, 0.025, 0.04, 0.03, 0.035, 0.04,
  0.03, 0.045, 0.035, 0.04, 0.03, 0.045, 0.04, 0.035, 0.05, 0.04,
  0.045, 0.035, 0.05, 0.04, 0.055, 0.045, 0.04, 0.06, 0.045, 0.05, 0.035
];
const rg470_25 = [
  0.17, 0.15, 0.18, 0.16, 0.17, 0.15, 0.18, 0.16, 0.15, 0.17,
  0.16, 0.14, 0.15, 0.14, 0.13, 0.14, 0.12, 0.13, 0.11, 0.10,
  0.10, 0.09, 0.085, 0.075, 0.07, 0.06, 0.055, 0.045, 0.04, 0.03,
  0.025, 0.02, 0.015, 0.01, 0.005, 0.0, 0.005, 0.01, 0.005, 0.01,
  0.015, 0.01, 0.02, 0.015, 0.01, 0.02, 0.015, 0.025, 0.02, 0.015,
  0.025, 0.02, 0.03, 0.025, 0.02, 0.03, 0.025, 0.035, 0.025, 0.03,
  0.035, 0.025, 0.03, 0.04, 0.03, 0.035, 0.025, 0.04, 0.03, 0.035,
  0.03, 0.04, 0.035, 0.03, 0.04, 0.035, 0.03, 0.045, 0.035, 0.03, 0.04
];
const rg470_50 = [
  0.13, 0.15, 0.12, 0.14, 0.12, 0.13, 0.11, 0.12, 0.10, 0.11,
  0.12, 0.10, 0.11, 0.09, 0.10, 0.085, 0.09, 0.08, 0.085, 0.07,
  0.075, 0.065, 0.07, 0.06, 0.055, 0.05, 0.05, 0.045, 0.04, 0.035,
  0.03, 0.03, 0.025, 0.02, 0.02, 0.015, 0.01, 0.01, 0.005, 0.01,
  0.005, 0.01, 0.005, 0.01, 0.015, 0.01, 0.015, 0.02, 0.015, 0.02,
  0.025, 0.015, 0.02, 0.025, 0.02, 0.03, 0.02, 0.025, 0.03, 0.02,
  0.025, 0.03, 0.02, 0.03, 0.025, 0.035, 0.025, 0.03, 0.025, 0.035,
  0.025, 0.03, 0.035, 0.025, 0.03, 0.04, 0.03, 0.025, 0.035, 0.03, 0.03
];
const rg470_75 = [
  0.18, 0.17, 0.19, 0.18, 0.20, 0.17, 0.19, 0.18, 0.20, 0.17,
  0.18, 0.17, 0.16, 0.17, 0.15, 0.16, 0.14, 0.15, 0.13, 0.14,
  0.13, 0.12, 0.12, 0.11, 0.10, 0.10, 0.09, 0.085, 0.08, 0.075,
  0.07, 0.065, 0.06, 0.055, 0.05, 0.045, 0.045, 0.04, 0.035, 0.03,
  0.03, 0.025, 0.02, 0.015, 0.015, 0.01, 0.015, 0.02, 0.015, 0.02,
  0.025, 0.02, 0.03, 0.025, 0.03, 0.035, 0.03, 0.025, 0.035, 0.03,
  0.04, 0.03, 0.035, 0.03, 0.04, 0.035, 0.03, 0.04, 0.035, 0.045,
  0.035, 0.04, 0.045, 0.035, 0.05, 0.04, 0.045, 0.05, 0.04, 0.045, 0.04
];
const rg470_100 = [
  0.16, 0.17, 0.15, 0.18, 0.16, 0.15, 0.17, 0.16, 0.15, 0.16,
  0.15, 0.16, 0.14, 0.15, 0.13, 0.14, 0.12, 0.13, 0.12, 0.11,
  0.10, 0.10, 0.09, 0.08, 0.075, 0.07, 0.06, 0.055, 0.05, 0.04,
  0.035, 0.03, 0.025, 0.02, 0.015, 0.01, 0.005, 0.0, 0.0, 0.005,
  0.01, 0.005, 0.01, 0.015, 0.01, 0.02, 0.015, 0.01, 0.02, 0.025,
  0.02, 0.03, 0.02, 0.025, 0.03, 0.02, 0.03, 0.025, 0.035, 0.025,
  0.03, 0.035, 0.025, 0.03, 0.04, 0.03, 0.035, 0.03, 0.04, 0.035,
  0.03, 0.04, 0.035, 0.045, 0.03, 0.04, 0.035, 0.045, 0.04, 0.035, 0.04
];
const rg470_125 = [
  0.15, 0.13, 0.16, 0.14, 0.12, 0.15, 0.13, 0.14, 0.12, 0.13,
  0.12, 0.13, 0.11, 0.12, 0.10, 0.11, 0.10, 0.09, 0.10, 0.085,
  0.08, 0.085, 0.075, 0.07, 0.065, 0.06, 0.055, 0.05, 0.045, 0.04,
  0.035, 0.035, 0.03, 0.025, 0.02, 0.02, 0.015, 0.01, 0.01, 0.005,
  0.01, 0.005, 0.01, 0.01, 0.015, 0.01, 0.02, 0.015, 0.01, 0.02,
  0.015, 0.02, 0.025, 0.02, 0.015, 0.025, 0.02, 0.03, 0.02, 0.025,
  0.03, 0.02, 0.025, 0.03, 0.025, 0.02, 0.03, 0.025, 0.035, 0.025,
  0.03, 0.025, 0.03, 0.035, 0.025, 0.03, 0.035, 0.03, 0.025, 0.035, 0.03
];
const rg470_150 = [
  0.17, 0.19, 0.18, 0.20, 0.17, 0.19, 0.18, 0.20, 0.19, 0.18,
  0.17, 0.18, 0.16, 0.17, 0.16, 0.15, 0.16, 0.14, 0.15, 0.14,
  0.13, 0.13, 0.12, 0.115, 0.11, 0.10, 0.095, 0.09, 0.085, 0.08,
  0.075, 0.07, 0.065, 0.06, 0.055, 0.05, 0.05, 0.045, 0.04, 0.04,
  0.035, 0.03, 0.025, 0.02, 0.02, 0.015, 0.02, 0.015, 0.02, 0.025,
  0.02, 0.025, 0.02, 0.03, 0.025, 0.02, 0.03, 0.025, 0.03, 0.035,
  0.025, 0.03, 0.04, 0.03, 0.035, 0.03, 0.04, 0.035, 0.03, 0.04,
  0.035, 0.045, 0.035, 0.04, 0.045, 0.035, 0.04, 0.05, 0.04, 0.035, 0.045
];
const rg470_175 = [
  0.15, 0.17, 0.16, 0.18, 0.15, 0.17, 0.16, 0.15, 0.17, 0.16,
  0.15, 0.16, 0.14, 0.15, 0.14, 0.13, 0.14, 0.12, 0.12, 0.11,
  0.105, 0.10, 0.09, 0.085, 0.08, 0.07, 0.065, 0.06, 0.05, 0.045,
  0.04, 0.035, 0.03, 0.025, 0.02, 0.015, 0.01, 0.005, 0.0, 0.005,
  0.0, 0.005, 0.01, 0.005, 0.01, 0.015, 0.01, 0.015, 0.02, 0.015,
  0.02, 0.025, 0.02, 0.015, 0.025, 0.02, 0.03, 0.02, 0.025, 0.03,
  0.025, 0.02, 0.03, 0.025, 0.035, 0.025, 0.03, 0.035, 0.025, 0.03,
  0.035, 0.03, 0.025, 0.035, 0.04, 0.03, 0.035, 0.03, 0.04, 0.035, 0.03
];

const FONT = '"Liberation Sans", Arial, Helvetica, sans-serif';
const rowColors = ['#0d0d0d', '#2a2a2a', '#4f4f4f', '#787878'];   // legend rows
const lineDash = [[], [5, 3], [1.5, 2]];                          // legend columns
const legendDash = [[], [9, 6], [3, 4]];
const legendCols = [{ from: -317, to: -281, text: -279 }, { from: -208, to: -167, text: -165 }, { from: -90, to: -58, text: -49 }];

function makeDatasets(times, series) {
  return series.map((vals, i) => ({
    label: temps[i],
    data: vals.map((v, k) => ({ x: times[k], y: v })),
    borderColor: rowColors[Math.floor(i / 3)],
    borderDash: lineDash[i % 3],
    borderWidth: 1.4,
    pointRadius: 0,
    tension: 0,
    fill: false
  }));
}

const panels = [
  {
    id: 'rg10', times: timeUs, xMax: 2.025, xStep: 0.2,
    series: [rg10_m75, rg10_m50, rg10_m25, rg10_0, rg10_25, rg10_50, rg10_75, rg10_100, rg10_125, rg10_150, rg10_175],
    padTop: 10, padRight: 15, yWidth: 69, xHeight: 79, titlePad: 35,
    marks: [0.3, 0.49, 0.58, 2.0], markEnd: 370,
    tag: '(a) R', tagTail: '= 10 Ω', tagAt: [0.9, 0.256],
    esw: [{ n: '1', x: 0.34, dy: 71 }, { n: '2', x: 0.537, dy: 73, rot: true }, { n: '3', x: 1.22, dy: 71 }]
  },
  {
    id: 'rg47', times: timeUs, xMax: 2.025, xStep: 0.2,
    series: [rg47_m75, rg47_m50, rg47_m25, rg47_0, rg47_25, rg47_50, rg47_75, rg47_100, rg47_125, rg47_150, rg47_175],
    padTop: 21, padRight: 15, yWidth: 69, xHeight: 84, titlePad: 40,
    marks: [0.27, 0.5, 0.59, 2.0], markEnd: 385,
    tag: '(b) R', tagTail: '= 47 Ω', tagAt: [0.92, 0.265],
    esw: [{ n: '1', x: 0.33, dy: 63 }, { n: '2', x: 0.545, dy: 63, rot: true }, { n: '3', x: 1.23, dy: 63 }]
  },
  {
    id: 'rg100', times: timeUs, xMax: 2.025, xStep: 0.2,
    series: [rg100_m75, rg100_m50, rg100_m25, rg100_0, rg100_25, rg100_50, rg100_75, rg100_100, rg100_125, rg100_150, rg100_175],
    padTop: 19, padRight: 15, yWidth: 69, xHeight: 86, titlePad: 33,
    marks: [0.26, 0.6, 0.69, 2.0], markEnd: 388,
    tag: '(c) R', tagTail: '= 100 Ω', tagAt: [0.88, 0.26],
    esw: [{ n: '1', x: 0.37, dy: 72 }, { n: '2', x: 0.655, dy: 77, rot: true }, { n: '3', x: 1.23, dy: 72 }]
  },
  {
    id: 'rg470', times: timeUsD, xMax: 4.03, xStep: 0.5,
    series: [rg470_m75, rg470_m50, rg470_m25, rg470_0, rg470_25, rg470_50, rg470_75, rg470_100, rg470_125, rg470_150, rg470_175],
    padTop: 20, padRight: 12, yWidth: 66, xHeight: 58, titlePad: 6,
    marks: [0.1, 2.07, 4.0], markEnd: 363,
    tag: '(d) R', tagTail: '= 470 Ω', tagAt: [1.83, 0.233],
    esw: [{ n: '1', x: 0.77, dy: 50 }, { n: '3', x: 2.98, dy: 50 }]
  }
];

function decor(p) {
  return {
    id: 'decor',
    beforeDatasetsDraw(chart) {
      const { ctx, chartArea: a, scales: { x } } = chart;
      ctx.save();
      ctx.strokeStyle = '#8f8f8f';
      ctx.lineWidth = 1;
      ctx.setLineDash([2, 2]);
      p.marks.forEach(v => {
        const px = Math.round(x.getPixelForValue(v)) + 0.5;
        ctx.beginPath();
        ctx.moveTo(px, a.top + 2);
        ctx.lineTo(px, p.markEnd);
        ctx.stroke();
      });
      ctx.restore();
    },
    afterDraw(chart) {
      const { ctx, chartArea: a, scales: { x, y } } = chart;
      ctx.save();

      // inward ticks
      ctx.strokeStyle = '#1a1a1a';
      ctx.lineWidth = 1.5;
      const line = (x1, y1, x2, y2) => { ctx.beginPath(); ctx.moveTo(x1, y1); ctx.lineTo(x2, y2); ctx.stroke(); };
      const xt = x.ticks.map(t => t.value);
      xt.forEach((v, i) => {
        const px = x.getPixelForValue(v);
        line(px, a.bottom, px, a.bottom - 5);
        if (i < xt.length - 1) {
          const m = x.getPixelForValue((v + xt[i + 1]) / 2);
          line(m, a.bottom, m, a.bottom - 3);
        }
      });
      const yt = y.ticks.map(t => t.value);
      yt.forEach((v, i) => {
        const py = y.getPixelForValue(v);
        line(a.left, py, a.left + 5, py);
        if (i < yt.length - 1) {
          const m = y.getPixelForValue((v + yt[i + 1]) / 2);
          line(a.left, m, a.left + 3, m);
        }
      });

      // frame
      ctx.lineWidth = 2;
      ctx.strokeRect(a.left, a.top, a.right - a.left, a.bottom - a.top);

      // legend, 3 columns
      ctx.textBaseline = 'middle';
      ctx.textAlign = 'left';
      chart.data.datasets.forEach((ds, i) => {
        const row = Math.floor(i / 3), col = i % 3;
        const c = legendCols[col];
        const ly = a.top + 15.5 + row * 20.7;
        ctx.strokeStyle = ds.borderColor;
        ctx.lineWidth = 2.2;
        ctx.setLineDash(legendDash[col]);
        line(a.right + c.from, ly, a.right + c.to, ly);
        ctx.setLineDash([]);
        ctx.fillStyle = '#111';
        ctx.font = 'bold 17px ' + FONT;
        ctx.fillText(ds.label, a.right + c.text, ly + 1);
      });

      // panel tag
      const tx = x.getPixelForValue(p.tagAt[0]);
      const ty = y.getPixelForValue(p.tagAt[1]);
      ctx.fillStyle = '#222';
      ctx.textBaseline = 'alphabetic';
      ctx.font = '28px ' + FONT;
      ctx.fillText(p.tag, tx, ty + 10);
      let w = ctx.measureText(p.tag).width;
      ctx.font = '18px ' + FONT;
      ctx.fillText('G', tx + w, ty + 12.5);
      w += ctx.measureText('G').width + 1;
      ctx.font = '28px ' + FONT;
      ctx.fillText(p.tagTail, tx + w, ty + 10);

      // energy interval labels
      p.esw.forEach(e => {
        const ex = x.getPixelForValue(e.x);
        ctx.save();
        if (e.rot) {
          ctx.translate(ex + 7, a.bottom + e.dy);
          ctx.rotate(-Math.PI / 2);
        } else {
          ctx.translate(ex, a.bottom + e.dy);
        }
        ctx.fillStyle = '#111';
        ctx.font = 'bold 20px ' + FONT;
        ctx.fillText('E', 0, 0);
        let ew = ctx.measureText('E').width;
        ctx.font = 'bold 13px ' + FONT;
        ctx.fillText('SW', ew, 5);
        ew += ctx.measureText('SW').width;
        ctx.font = 'bold 10px ' + FONT;
        ctx.fillText(e.n, ew, 9);
        ctx.restore();
      });

      ctx.restore();
    }
  };
}

const tickFont = { family: FONT, weight: 'bold', size: 14 };

panels.forEach(p => {
  new Chart(document.getElementById(p.id), {
    type: 'line',
    data: { datasets: makeDatasets(p.times, p.series) },
    options: {
      responsive: false,
      animation: false,
      devicePixelRatio: 1,
      layout: { padding: { top: p.padTop, right: p.padRight, left: 0, bottom: 0 } },
      plugins: { legend: { display: false }, tooltip: { enabled: false } },
      scales: {
        x: {
          type: 'linear',
          min: 0,
          max: p.xMax,
          grid: { display: false, drawTicks: false },
          border: { display: false },
          ticks: {
            stepSize: p.xStep,
            includeBounds: false,
            autoSkip: false,
            maxRotation: 0,
            padding: 7,
            color: '#1a1a1a',
            font: tickFont,
            callback: v => v.toFixed(1)
          },
          title: {
            display: true,
            text: 'Switching Time [µs]',
            color: '#1a1a1a',
            font: { family: FONT, weight: 'bold', size: 16 },
            padding: { top: 0, bottom: p.titlePad }
          },
          afterFit(s) { s.height = p.xHeight; s.paddingLeft = 0; s.paddingRight = 0; }
        },
        y: {
          min: 0,
          max: 0.5,
          grid: { display: false, drawTicks: false },
          border: { display: false },
          ticks: {
            stepSize: 0.1,
            padding: 5,
            color: '#1a1a1a',
            font: tickFont,
            callback: v => v.toFixed(1)
          },
          title: {
            display: true,
            text: 'Power [kW]',
            color: '#1a1a1a',
            font: { family: FONT, weight: 'bold', size: 15 },
            padding: { top: 12, bottom: 0 }
          },
          afterFit(s) { s.width = p.yWidth; s.paddingTop = 0; s.paddingBottom = 0; }
        }
      }
    },
    plugins: [decor(p)]
  });
});
</script>
</body>
</html>
